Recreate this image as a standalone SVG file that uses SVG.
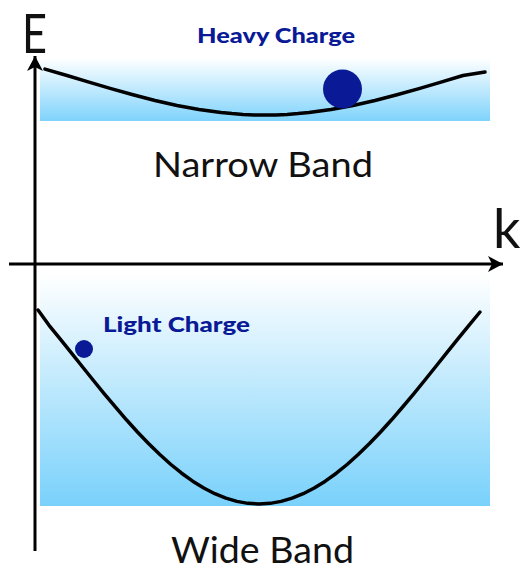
<svg xmlns="http://www.w3.org/2000/svg" width="522" height="571" viewBox="0 0 522 571">
<defs>
<style>
.lbl{font-family:Lato,"Open Sans","Liberation Sans",sans-serif;fill:#111}
.chg{font-family:Lato,"Open Sans","Liberation Sans",sans-serif;font-weight:900;fill:#0a1a96}
.curve{fill:none;stroke:#000;stroke-width:3.5;stroke-linejoin:round;stroke-linecap:round}
.axis{stroke:#000;stroke-width:3;fill:none}
</style>
<linearGradient id="gTop" x1="0" y1="0" x2="0" y2="1">
<stop offset="0" stop-color="#ffffff"/>
<stop offset="1" stop-color="#7fd3fc"/>
</linearGradient>
<linearGradient id="gBot" x1="0" y1="0" x2="0" y2="1">
<stop offset="0" stop-color="#ffffff"/>
<stop offset="1" stop-color="#79d1fb"/>
</linearGradient>
<marker id="arr" markerUnits="userSpaceOnUse" markerWidth="20" markerHeight="20" refX="16" refY="10" orient="auto" viewBox="0 0 20 20">
<path d="M16,10 L1,2 L5,10 L1,18 Z" fill="#000"/>
</marker>
</defs>
<g id="narrow-band">
<rect x="40" y="58" width="450" height="63" fill="url(#gTop)"/>
<polyline class="curve" points="45,69.1 67,75.5 89,82.1 111,88.6 133,94.8 155,100.5 177,105.5 199,109.5 210,111.1 221,112.5 232,113.6 243,114.4 254,114.9 265,115 276,114.9 287,114.4 298,113.6 309,112.5 320,111.1 331,109.5 353,105.5 375,100.5 397,94.8 419,88.6 441,82.1 463,75.5 485,72"/>
</g>
<g id="wide-band">
<rect x="40" y="274" width="450" height="232" fill="url(#gBot)"/>
<polyline class="curve" points="38,310 49.05,325.3 60.1,338.9 71.15,352.69 82.2,366.5 93.25,380.25 104.3,393.8 115.35,406.99 126.4,419.8 137.45,431.98 148.5,443.53 159.55,454.31 170.6,464.24 181.65,473.22 192.7,481.16 203.75,488.01 214.8,493.7 225.85,498.17 236.9,501.4 247.95,503.35 259,504 270.05,503.35 281.1,501.4 292.15,498.17 303.2,493.7 314.25,488.01 325.3,481.16 336.35,473.22 347.4,464.24 358.45,454.31 369.5,443.53 380.55,431.98 391.6,419.8 402.65,406.99 413.7,393.8 424.75,380.25 435.8,366.5 446.85,352.69 457.9,338.9 468.95,325.3 480,312"/>
</g>
<g id="connectors">
<line class="axis" x1="35" y1="551" x2="35" y2="56" marker-end="url(#arr)"/>
<line class="axis" x1="9" y1="264" x2="503" y2="264" marker-end="url(#arr)"/>
</g>
<g id="heavy-charge">
<circle cx="342.5" cy="89" r="19.5" fill="#0a1a96"/>
<text class="chg" x="197" y="43" font-size="20" textLength="158" lengthAdjust="spacingAndGlyphs">Heavy Charge</text>
</g>
<g id="light-charge">
<circle cx="84" cy="349" r="9" fill="#0a1a96"/>
<text class="chg" x="103" y="332" font-size="20" textLength="147" lengthAdjust="spacingAndGlyphs">Light Charge</text>
</g>
<g id="labels">
<text class="lbl" x="22" y="53" font-size="54" textLength="25" lengthAdjust="spacingAndGlyphs">E</text>
<text class="lbl" x="493" y="248" font-size="54">k</text>
<text class="lbl" x="153" y="177" font-size="35" textLength="220" lengthAdjust="spacingAndGlyphs">Narrow Band</text>
<text class="lbl" x="171" y="563" font-size="37" textLength="183" lengthAdjust="spacingAndGlyphs">Wide Band</text>
</g>
</svg>
